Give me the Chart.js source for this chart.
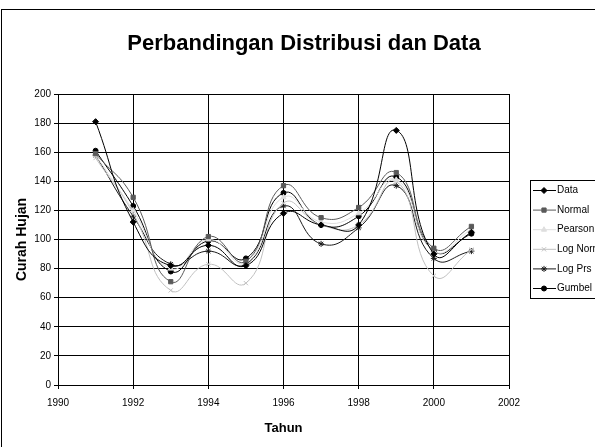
<!DOCTYPE html>
<html>
<head>
<meta charset="utf-8">
<script src="https://cdn.jsdelivr.net/npm/chart.js@4.4.0/dist/chart.umd.min.js"></script>
<style>
  body { margin: 0; background: #fff; }
  canvas { display: block; }
</style>
</head>
<body>
<canvas id="distChart" width="595" height="447"></canvas>
<script>
// Chart data
const chartTitle = 'Perbandingan Distribusi dan Data';
const years = [1991, 1992, 1993, 1994, 1995, 1996, 1997, 1998, 1999, 2000, 2001];
const dataValues = [181, 112, 82, 96, 82, 118, 110, 110, 175, 90, 105];
const normalValues = [159, 129, 71, 102, 85, 137, 115, 122, 146, 94, 109];
const pearsonValues = [158, 120, 80, 100, 84, 129, 112, 118, 141, 92, 107];
const logNormalValues = [156, 118, 65, 83, 70, 125, 110, 110, 140, 75, 93];
const logPearsonValues = [158, 116, 83, 92, 83, 123, 97, 108, 137, 87, 92];
const gumbelValues = [161, 123, 78, 99, 87, 132, 110, 116, 143, 92, 104];
const xTicks = [1990, 1992, 1994, 1996, 1998, 2000, 2002];
const yTicks = [0, 20, 40, 60, 80, 100, 120, 140, 160, 180, 200];

const smallFont = { family: '"Liberation Sans", Arial, sans-serif', size: 10 };

function series(label, values, color, pointStyle, radius) {
    return {
        label: label,
        data: years.map((y, i) => ({ x: y, y: values[i] })),
        borderColor: color,
        backgroundColor: color,
        pointBackgroundColor: color,
        pointBorderColor: color,
        pointStyle: pointStyle,
        pointRadius: radius,
        pointBorderWidth: 1,
        borderWidth: 1,
        tension: 0.5,
        fill: false
    };
}

// Title, outer frame and legend box drawn after the chart
const framePlugin = {
    id: 'framePlugin',
    afterDraw(chart) {
        const ctx = chart.ctx;
        ctx.save();
        ctx.strokeStyle = '#000';
        ctx.lineWidth = 1;
        ctx.strokeRect(1.5, 9.5, 800, 800);

        ctx.fillStyle = '#000';
        ctx.font = 'bold 22px "Liberation Sans", Arial, sans-serif';
        ctx.textAlign = 'center';
        ctx.textBaseline = 'alphabetic';
        ctx.fillText(chartTitle, 304, 50);

        // Legend
        ctx.strokeStyle = '#000';
        ctx.strokeRect(530.5, 180.5, 100, 118);
        chart.data.datasets.forEach((ds, i) => {
            const y = 190.5 + i * 19.6;
            ctx.strokeStyle = ds.borderColor;
            ctx.lineWidth = 1;
            ctx.beginPath();
            ctx.moveTo(533, y);
            ctx.lineTo(556, y);
            ctx.stroke();
            ctx.fillStyle = ds.pointBackgroundColor;
            ctx.strokeStyle = ds.pointBorderColor;
            Chart.helpers.drawPoint(ctx, {
                pointStyle: ds.pointStyle,
                radius: ds.pointRadius,
                rotation: 0,
                borderWidth: 1
            }, 544, y);
            ctx.fillStyle = '#000';
            ctx.font = '10px "Liberation Sans", Arial, sans-serif';
            ctx.textAlign = 'left';
            ctx.textBaseline = 'middle';
            ctx.fillText(ds.label, 557, y);
        });
        ctx.restore();
    }
};

const ctx = document.getElementById('distChart').getContext('2d');
new Chart(ctx, {
    type: 'line',
    data: {
        datasets: [
            series('Data', dataValues, '#000000', 'rectRot', 3),
            series('Normal', normalValues, '#5a5a5a', 'rect', 3),
            series('Pearson', pearsonValues, '#dedede', 'triangle', 3),
            series('Log Normal', logNormalValues, '#c0c0c0', 'crossRot', 3),
            series('Log Prs', logPearsonValues, '#1a1a1a', 'star', 3),
            series('Gumbel', gumbelValues, '#000000', 'circle', 2.5)
        ]
    },
    options: {
        responsive: false,
        animation: false,
        layout: {
            padding: { top: 94, right: 86, bottom: 0, left: 0 }
        },
        plugins: {
            legend: { display: false },
            title: { display: false },
            tooltip: { enabled: false }
        },
        scales: {
            x: {
                type: 'linear',
                min: 1990,
                max: 2002,
                afterBuildTicks: scale => { scale.ticks = xTicks.map(v => ({ value: v })); },
                afterFit: scale => { scale.height = 62; },
                grid: { color: '#000', tickLength: 4 },
                border: { color: '#000' },
                ticks: {
                    color: '#000',
                    font: smallFont,
                    padding: 8,
                    maxRotation: 0,
                    callback: v => String(v)
                },
                title: {
                    display: true,
                    text: 'Tahun',
                    color: '#000',
                    font: { family: '"Liberation Sans", Arial, sans-serif', size: 13, weight: 'bold' },
                    padding: { top: 0, bottom: 11 }
                }
            },
            y: {
                min: 0,
                max: 200,
                afterBuildTicks: scale => { scale.ticks = yTicks.map(v => ({ value: v })); },
                afterFit: scale => { scale.width = 58; },
                grid: { color: '#000', tickLength: 4 },
                border: { color: '#000' },
                ticks: {
                    color: '#000',
                    font: smallFont,
                    padding: 3
                },
                title: {
                    display: true,
                    text: 'Curah Hujan',
                    color: '#000',
                    font: { family: '"Liberation Sans", Arial, sans-serif', size: 14, weight: 'bold' },
                    padding: { top: 14, bottom: 0 }
                }
            }
        }
    },
    plugins: [framePlugin]
});
</script>
</body>
</html>
